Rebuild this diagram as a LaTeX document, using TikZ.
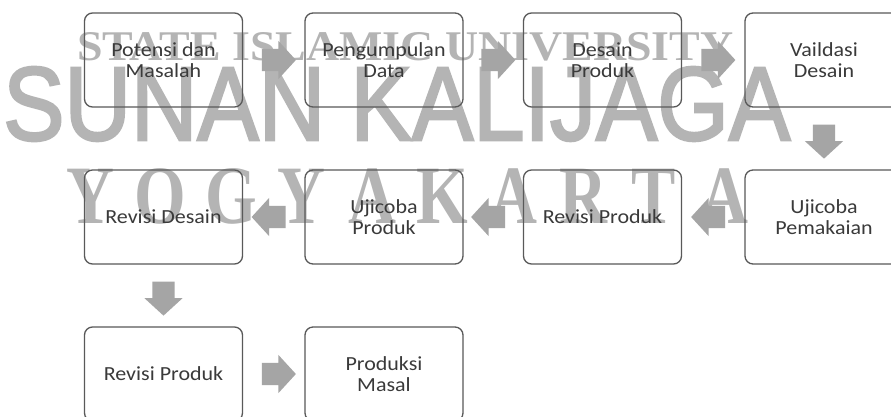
\documentclass[tikz,border=0pt]{standalone}
\usepackage{fontspec}
\usepackage{graphicx}
\usetikzlibrary{shapes.arrows,calc}
\setmainfont{Carlito}
\newfontfamily\boxfont{Carlito}[FakeStretch=1.1]
\newfontfamily\wmserif{Liberation Serif}
\newfontfamily\wmsans{Liberation Sans}[FakeBold=2.5]
\definecolor{boxline}{HTML}{595959}
\definecolor{boxtext}{HTML}{3A3A3A}
\definecolor{arrowfill}{HTML}{A5A5A5}
\definecolor{wmgray}{HTML}{B4B4B4}
\begin{document}
\begin{tikzpicture}[x=1pt,y=-1pt,
  stepbox/.style={draw=boxline, line width=1.3pt, rounded corners=8pt, minimum width=158pt, minimum height=94pt, align=center, text=boxtext, font=\boxfont\fontsize{20}{21}\selectfont, inner sep=0pt},
  blockarrow/.style={single arrow, fill=arrowfill, draw=none, minimum height=34pt, inner xsep=0pt, inner ysep=11pt, single arrow head extend=8pt, single arrow tip angle=95},
  wm/.style={text=wmgray, inner sep=0pt}
]
\fill[white] (0,0) rectangle (891,416);
\useasboundingbox (0,0) rectangle (891,416);
\node[wm, anchor=base west] (w1) at (77,60) {\resizebox{656pt}{28pt}{\wmserif\bfseries STATE ISLAMIC UNIVERSITY}};
\node[wm, anchor=base west] (w2) at (3,140) {\resizebox{787pt}{73pt}{\wmsans SUNAN KALIJAGA}};
\foreach \c [count=\i from 0] in {Y,O,G,Y,A,K,A,R,T,A}
  \node[wm, anchor=base] (y\i) at (90+70.5*\i,223) {\scalebox{0.8}[1]{\wmserif\bfseries\fontsize{83}{83}\selectfont \c}};
\node[stepbox] (b1) at (163.5,60) {Potensi dan\\Masalah};
\node[stepbox] (b2) at (384,60) {Pengumpulan\\Data};
\node[stepbox] (b3) at (602.5,60) {Desain\\Produk};
\node[stepbox] (b4) at (824,60) {Vaildasi\\Desain};
\node[stepbox] (b5) at (824,217) {Ujicoba\\Pemakaian};
\node[stepbox] (b6) at (602.5,217) {Revisi Produk};
\node[stepbox] (b7) at (384,217) {Ujicoba\\Produk};
\node[stepbox] (b8) at (163.5,217) {Revisi Desain};
\node[stepbox] (b9) at (163.5,374) {Revisi Produk};
\node[stepbox] (b10) at (384,374) {Produksi\\Masal};
\node[blockarrow] (a1) at ($(b1.east)!0.5!(b2.west)$) {};
\node[blockarrow] (a2) at ($(b2.east)!0.5!(b3.west)$) {};
\node[blockarrow] (a3) at ($(b3.east)!0.5!(b4.west)$) {};
\node[blockarrow, rotate=-90] (a4) at ($(b4.south)!0.5!(b5.north)+(0,-2)$) {};
\node[blockarrow, rotate=180] (a5) at ($(b5.west)!0.5!(b6.east)$) {};
\node[blockarrow, rotate=180] (a6) at ($(b6.west)!0.5!(b7.east)$) {};
\node[blockarrow, rotate=180] (a7) at ($(b7.west)!0.5!(b8.east)$) {};
\node[blockarrow, rotate=-90] (a8) at ($(b8.south)!0.5!(b9.north)+(0,-2)$) {};
\node[blockarrow] (a9) at ($(b9.east)!0.5!(b10.west)$) {};
\end{tikzpicture}
\end{document}
